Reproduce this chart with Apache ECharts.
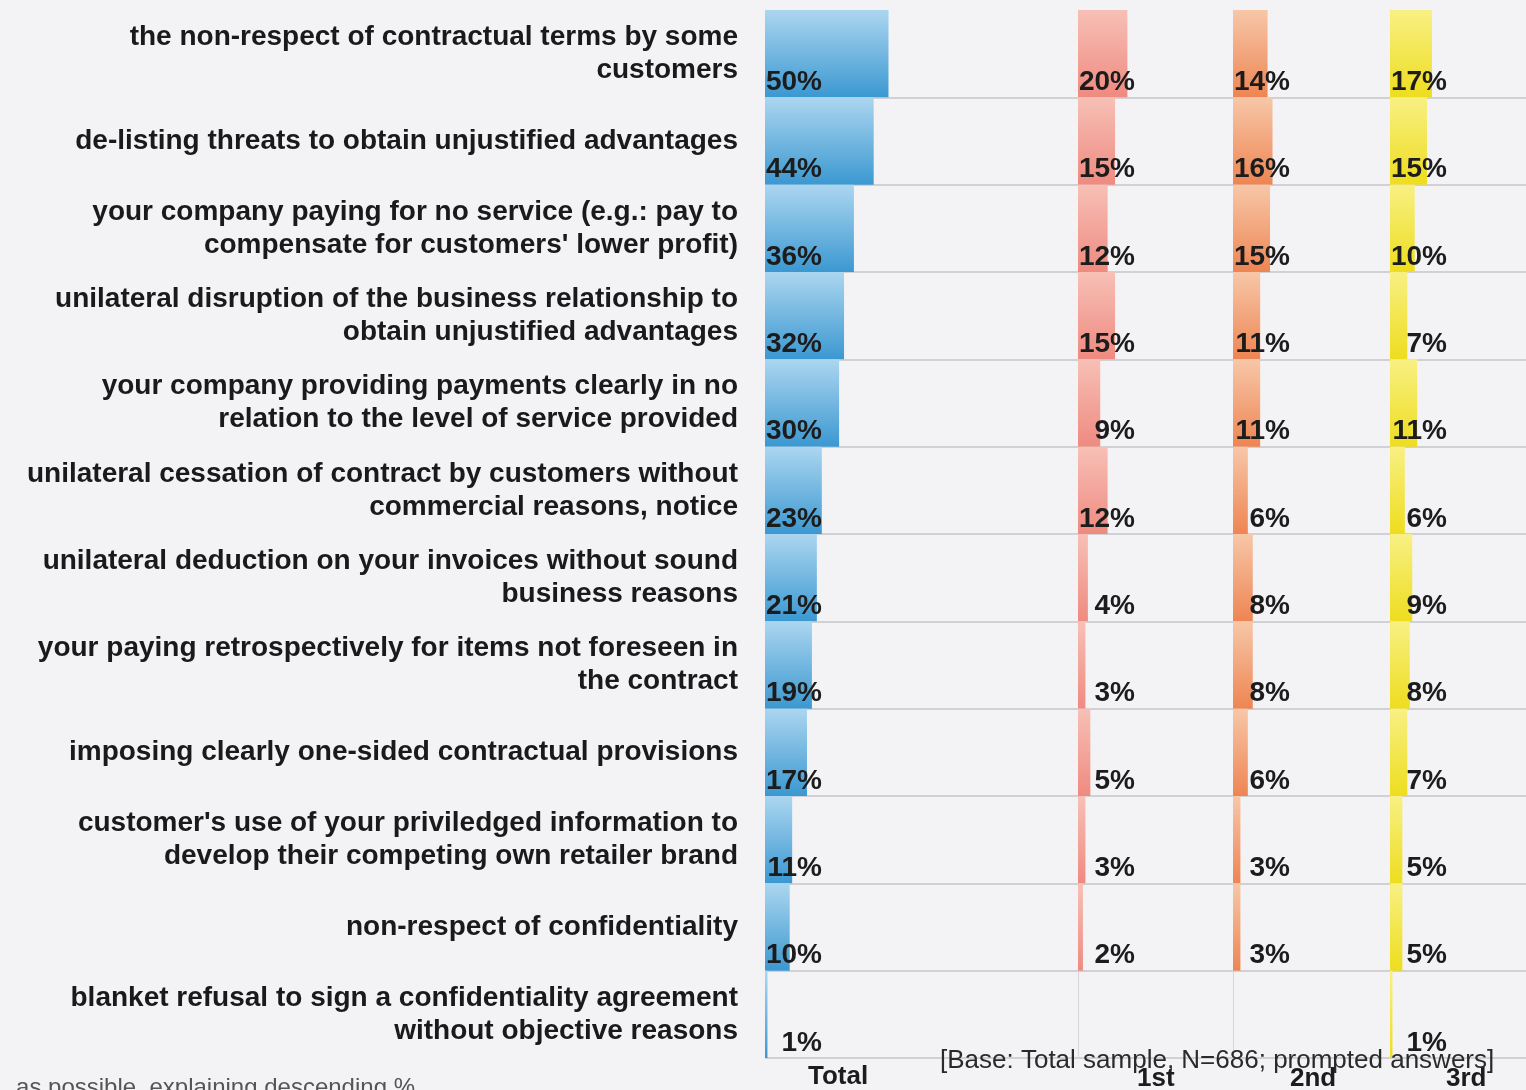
<!DOCTYPE html>
<html>
<head>
<meta charset="utf-8">
<script src="https://cdn.jsdelivr.net/npm/echarts@6/dist/echarts.min.js"></script>
<style>
  html, body { margin: 0; padding: 0; background: #f3f3f6; }
  #chart { width: 1526px; height: 1090px; }
</style>
</head>
<body>
<div id="chart"></div>
<script>
// Unfair trading practices experienced, ranked: total and 1st / 2nd / 3rd mention (%)
const categories = [
  "the non-respect of contractual terms by some\ncustomers",
  "de-listing threats to obtain unjustified advantages",
  "your company paying for no service (e.g.: pay to\ncompensate for customers' lower profit)",
  "unilateral disruption of the business relationship to\nobtain unjustified advantages",
  "your company providing payments clearly in no\nrelation to the level of service provided",
  "unilateral cessation of contract by customers without\ncommercial reasons, notice",
  "unilateral deduction on your invoices without sound\nbusiness reasons",
  "your paying retrospectively for items not foreseen in\nthe contract",
  "imposing clearly one-sided contractual provisions",
  "customer's use of your priviledged information to\ndevelop their competing own retailer brand",
  "non-respect of confidentiality",
  "blanket refusal to sign a confidentiality agreement\nwithout objective reasons"
];
const totalValues  = [50, 44, 36, 32, 30, 23, 21, 19, 17, 11, 10, 1];
const firstValues  = [20, 15, 12, 15, 9, 12, 4, 3, 5, 3, 2, null];
const secondValues = [14, 16, 15, 11, 11, 6, 8, 8, 6, 3, 3, null];
const thirdValues  = [17, 15, 10, 7, 11, 6, 9, 8, 7, 5, 5, 1];
const panelNames = ['Total', '1st', '2nd', '3rd'];
const baseNote = '[Base: Total sample, N=686; prompted answers]';
const footNote = 'as possible, explaining descending %';

// Panel geometry (pixels) and a shared horizontal scale
const panelLeft  = [765, 1078, 1233, 1390];
const panelRight = [1078, 1233, 1390, 1526];
const pxPerPct = 2.47;
const plotTop = 10, plotBottom = 1058;

const panelColors = [
  ['#acd6f0', '#3b98d1'],
  ['#f7c0b6', '#ef8a80'],
  ['#f7c7a8', '#ee8552'],
  ['#f8f084', '#eedd1e']
];
const panelData = [totalValues, firstValues, secondValues, thirdValues];

const FONT = '"Liberation Sans", Arial, Helvetica, sans-serif';

const grids = [], xAxes = [], yAxes = [], series = [];
panelData.forEach(function (vals, i) {
  const w = panelRight[i] - panelLeft[i];
  grids.push({
    left: panelLeft[i],
    top: plotTop,
    width: w,
    height: plotBottom - plotTop,
    containLabel: false
  });
  xAxes.push({
    type: 'value', gridIndex: i, min: 0, max: w / pxPerPct,
    axisLine: { show: false }, axisTick: { show: false },
    axisLabel: { show: false }, splitLine: { show: false }
  });
  yAxes.push({
    type: 'category', gridIndex: i, data: categories, inverse: true,
    axisLine: { show: true, lineStyle: { color: '#d6d6da', width: 1 } },
    axisTick: { show: false },
    axisLabel: i === 0 ? {
      show: true, margin: 27, fontFamily: FONT, fontSize: 28,
      fontWeight: 'bold', lineHeight: 33, color: '#1a1a1a', align: 'right',
      padding: [0, 0, 6, 0]
    } : { show: false },
    splitLine: {
      show: true, showMinLine: false, showMaxLine: true,
      lineStyle: { color: '#c6c6ca', width: 1.5 }
    }
  });
  series.push({
    type: 'bar', xAxisIndex: i, yAxisIndex: i, data: vals,
    barCategoryGap: '0%', barWidth: '100%',
    itemStyle: {
      color: new echarts.graphic.LinearGradient(0, 0, 0, 1, [
        { offset: 0, color: panelColors[i][0] },
        { offset: 1, color: panelColors[i][1] }
      ])
    },
    label: {
      show: true, position: [57, '100%'], align: 'right', verticalAlign: 'bottom',
      fontFamily: FONT, fontSize: 28, fontWeight: 'bold', color: '#1c1c1c',
      lineHeight: 30,
      formatter: function (p) { return p.value == null ? '' : p.value + '%'; }
    },
    silent: true, animation: false
  });
});

const chart = echarts.init(document.getElementById('chart'), null, { renderer: 'canvas' });
chart.setOption({
  backgroundColor: '#f3f3f6',
  animation: false,
  grid: grids, xAxis: xAxes, yAxis: yAxes, series: series,
  graphic: [
    { type: 'text', left: 808, top: 1064, style: { text: panelNames[0], font: 'bold 26px ' + FONT, fill: '#1c1c1c' } },
    { type: 'text', left: 1137, top: 1066, style: { text: panelNames[1], font: 'bold 26px ' + FONT, fill: '#1c1c1c' } },
    { type: 'text', left: 1290, top: 1066, style: { text: panelNames[2], font: 'bold 26px ' + FONT, fill: '#1c1c1c' } },
    { type: 'text', left: 1446, top: 1066, style: { text: panelNames[3], font: 'bold 26px ' + FONT, fill: '#1c1c1c' } },
    { type: 'text', left: 940, top: 1048, z: 10, style: { text: baseNote, font: '26px ' + FONT, fill: '#2a2a2a' } },
    { type: 'text', right: 1111, top: 1076, style: { text: footNote, font: '24px ' + FONT, fill: '#555' } }
  ]
});
</script>
</body>
</html>
